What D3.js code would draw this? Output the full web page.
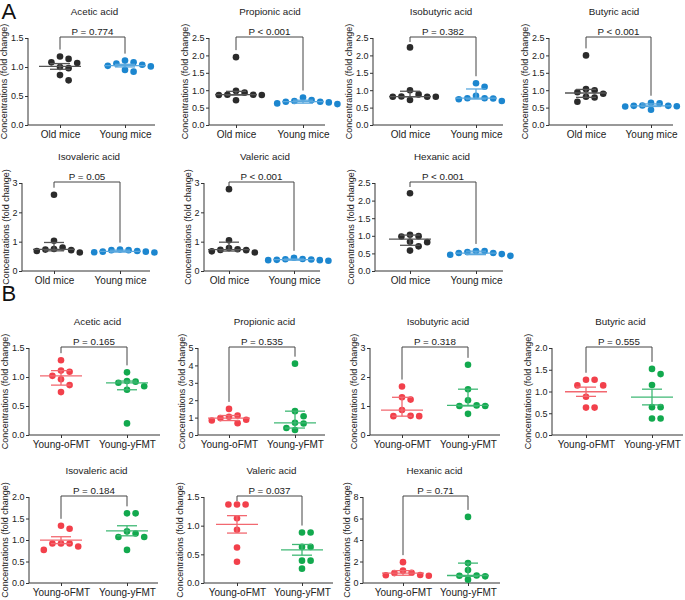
<!DOCTYPE html>
<html>
<head>
<meta charset="utf-8">
<script src="https://cdn.jsdelivr.net/npm/d3@7"></script>
<style>
  body { margin: 0; background: #fff; }
  svg { font-family: "Liberation Sans", Arial, sans-serif; }
</style>
</head>
<body>
<svg id="chart" width="685" height="600"></svg>
<script>
// ---- data ----
const acidNames = ["Acetic acid", "Propionic acid", "Isobutyric acid", "Butyric acid",
  "Isovaleric acid", "Valeric acid", "Hexanic acid"];

const groupsA = ["Old mice", "Young mice"];
const groupsB = ["Young-oFMT", "Young-yFMT"];

const pLabelsA = ["P = 0.774", "P < 0.001", "P = 0.382", "P < 0.001", "P = 0.05", "P < 0.001", "P < 0.001"];
const pLabelsB = ["P = 0.165", "P = 0.535", "P = 0.318", "P = 0.555", "P = 0.184", "P = 0.037", "P = 0.71"];

// which summary is drawn: mean ± SEM or median with IQR
const statA = ["mean", "median", "median", "median", "median", "median", "median"];
const statB = ["median", "median", "median", "mean", "mean", "mean", "median"];

const yMaxA = [1.5, 2.5, 2.5, 2.5, 3, 3, 2.5];
const yStepA = [0.5, 0.5, 0.5, 0.5, 1, 1, 0.5];
const yMaxB = [1.5, 5, 3, 2, 2, 1.5, 8];
const yStepB = [0.5, 1, 1, 0.5, 0.5, 0.5, 2];

const oldMice = [
  [1.18, 1.14, 1.08, 1.07, 1.0, 0.98, 0.86, 0.77],
  [1.95, 0.98, 0.93, 0.87, 0.87, 0.86, 0.86, 0.71],
  [2.23, 1.0, 0.88, 0.82, 0.81, 0.81, 0.81, 0.72],
  [2.0, 1.03, 1.0, 0.94, 0.90, 0.81, 0.79, 0.67],
  [2.6, 1.03, 0.8, 0.75, 0.73, 0.71, 0.68, 0.63],
  [2.79, 1.05, 0.78, 0.74, 0.72, 0.71, 0.67, 0.63],
  [2.21, 1.03, 0.99, 0.98, 0.83, 0.82, 0.70, 0.58]
];
const youngMice = [
  [1.11, 1.08, 1.06, 1.04, 1.02, 1.01, 0.95, 0.92],
  [0.79, 0.72, 0.69, 0.67, 0.67, 0.65, 0.62, 0.60],
  [1.2, 1.1, 0.84, 0.77, 0.77, 0.76, 0.74, 0.69],
  [0.64, 0.62, 0.56, 0.55, 0.55, 0.54, 0.53, 0.44],
  [0.73, 0.71, 0.71, 0.68, 0.66, 0.66, 0.64, 0.63],
  [0.45, 0.41, 0.40, 0.39, 0.38, 0.37, 0.37, 0.35],
  [0.57, 0.57, 0.54, 0.51, 0.51, 0.48, 0.46, 0.43]
];
const oFMT = [
  [1.29, 1.11, 1.09, 1.02, 0.96, 0.86, 0.74],
  [1.5, 1.12, 1.05, 0.97, 0.88, 0.83, 0.68],
  [1.67, 1.3, 1.22, 0.86, 0.66, 0.65, 0.65],
  [1.27, 1.27, 1.14, 1.14, 0.88, 0.63, 0.63],
  [1.33, 1.26, 0.92, 0.92, 0.92, 0.85, 0.77],
  [1.37, 1.37, 1.37, 1.13, 0.93, 0.62, 0.37],
  [1.94, 1.15, 0.95, 0.92, 0.75, 0.72, 0.68]
];
const yFMT = [
  [1.08, 0.93, 0.92, 0.9, 0.84, 0.78, 0.2],
  [4.1, 1.37, 1.08, 0.7, 0.66, 0.4, 0.29],
  [2.42, 1.58, 1.2, 1.02, 1.0, 1.0, 0.73],
  [1.52, 1.4, 1.15, 0.64, 0.64, 0.38, 0.38],
  [1.62, 1.62, 1.2, 1.15, 1.07, 1.07, 0.77],
  [0.88, 0.88, 0.63, 0.63, 0.39, 0.39, 0.25],
  [6.15, 1.85, 1.2, 0.7, 0.68, 0.62, 0.31]
];

// ---- layout ----
const layoutA = [
  {ax: 28, end: 155, g: [60, 125]},
  {ax: 209, end: 325, g: [236, 303]},
  {ax: 373, end: 503, g: [410, 476]},
  {ax: 549, end: 673, g: [586, 651]},
  {ax: 22, end: 150, g: [54, 120]},
  {ax: 204, end: 320, g: [229, 294]},
  {ax: 375, end: 503, g: [410, 476]}
];
const layoutB = [
  {ax: 29, end: 160, g: [61, 127]},
  {ax: 198, end: 325, g: [229, 295]},
  {ax: 370, end: 500, g: [402, 468]},
  {ax: 552, end: 683, g: [586, 652]},
  {ax: 29, end: 158, g: [61, 127]},
  {ax: 204, end: 333, g: [237, 302]},
  {ax: 363, end: 500, g: [403, 468]}
];
const rowsA = [{top: 38, bottom: 125}, {top: 183, bottom: 271}];
const rowsB = [{top: 348, bottom: 435}, {top: 497, bottom: 583}];

const inkA = {pt: ["#2b2b2b", "#1c86cf"], ln: ["#555555", "#5aa8de"]};
const inkB = {pt: ["#f2404b", "#12a94e"], ln: ["#f26870", "#3fb874"]};

const axisColor = "#333";
const R = 3.3;

const svg = d3.select("#chart");

// GraphPad-style percentile: position (n+1)p
const pctl = (vals, p) => {
  const s = vals.slice().sort(d3.ascending);
  const n = s.length;
  let pos = (n + 1) * p;
  pos = Math.max(1, Math.min(n, pos));
  const lo = Math.floor(pos), frac = pos - lo;
  return lo >= n ? s[n - 1] : s[lo - 1] + frac * (s[lo] - s[lo - 1]);
};

const summary = (vals, kind) => {
  if (kind === "mean") {
    const m = d3.mean(vals);
    const sem = d3.deviation(vals) / Math.sqrt(vals.length);
    return {mid: m, lo: m - sem, hi: m + sem};
  }
  return {mid: pctl(vals, 0.5), lo: pctl(vals, 0.25), hi: pctl(vals, 0.75)};
};

// simple dodge so points do not overlap
const dodge = (vals, y, cx, step) => {
  const order = d3.range(vals.length).sort((a, b) => vals[b] - vals[a]);
  const placed = [];
  const xs = new Array(vals.length);
  order.forEach(i => {
    const py = y(vals[i]);
    for (let k = 0; k < 20; k++) {
      const off = k === 0 ? 0 : (k % 2 ? 1 : -1) * Math.ceil(k / 2) * step;
      const hit = placed.some(p => Math.hypot(p.x - off, p.y - py) < 2 * R + 0.3);
      if (!hit) { placed.push({x: off, y: py}); xs[i] = cx + off; break; }
    }
  });
  return xs;
};

const drawPanel = (cfg) => {
  const {lay, row, title, groups, series, kind, yMax, yStep, pLabel, ink} = cfg;
  const g = svg.append("g");

  const y = d3.scaleLinear().domain([0, yMax]).range([row.bottom, row.top]);
  const x = d3.scalePoint().domain(groups).range(lay.g);

  // title
  g.append("text")
    .attr("x", (lay.ax + lay.end) / 2 + 3)
    .attr("y", row.top - 23)
    .attr("text-anchor", "middle")
    .attr("font-size", 9.8)
    .attr("fill", "#222")
    .text(title);

  // y axis
  const ticks = d3.range(0, yMax + yStep / 2, yStep);
  const fmt = yStep < 1 ? d3.format(".1f") : d3.format("d");
  const yAxis = g.append("g")
    .attr("transform", `translate(${lay.ax},0)`)
    .call(d3.axisLeft(y).tickValues(ticks).tickFormat(fmt).tickSize(3).tickPadding(1.5));
  yAxis.select(".domain").attr("stroke", axisColor).attr("d", `M0,${row.top}V${row.bottom}`);
  yAxis.selectAll(".tick line").attr("stroke", axisColor);
  yAxis.selectAll(".tick text").attr("font-size", 9).attr("fill", "#222")
    .attr("font-family", "Liberation Sans, Arial, sans-serif");

  let maxW = 0;
  yAxis.selectAll(".tick text").each(function () { maxW = Math.max(maxW, this.getComputedTextLength()); });

  g.append("text")
    .attr("transform", `translate(${lay.ax - maxW - 8},${(row.top + row.bottom) / 2}) rotate(-90)`)
    .attr("text-anchor", "middle")
    .attr("font-size", 9)
    .attr("fill", "#222")
    .text("Concentrations (fold change)");

  // x axis
  const xAxis = g.append("g")
    .attr("transform", `translate(0,${row.bottom})`)
    .call(d3.axisBottom(x).tickSize(3).tickPadding(3));
  xAxis.select(".domain").attr("stroke", axisColor).attr("d", `M${lay.ax},0H${lay.end}`);
  xAxis.selectAll(".tick line").attr("stroke", axisColor);
  xAxis.selectAll(".tick text").attr("font-size", 10).attr("fill", "#222")
    .attr("font-family", "Liberation Sans, Arial, sans-serif");

  // points
  groups.forEach((grp, gi) => {
    const vals = series[gi];
    const cx = x(grp);
    const xs = dodge(vals, y, cx, 8.6);
    g.append("g").selectAll("circle")
      .data(vals)
      .enter().append("circle")
      .attr("cx", (d, i) => xs[i])
      .attr("cy", d => y(d))
      .attr("r", R)
      .attr("fill", ink.pt[gi]);

    // summary bars
    const s = summary(vals, kind);
    const bar = g.append("g").attr("stroke", ink.ln[gi]).attr("stroke-width", 1.3).attr("fill", "none");
    bar.append("line").attr("x1", cx).attr("x2", cx).attr("y1", y(s.lo)).attr("y2", y(s.hi));
    bar.append("line").attr("x1", cx - 21).attr("x2", cx + 21).attr("y1", y(s.mid)).attr("y2", y(s.mid));
    [s.lo, s.hi].forEach(v => {
      bar.append("line").attr("x1", cx - 10).attr("x2", cx + 10).attr("y1", y(v)).attr("y2", y(v));
    });
  });

  // significance bracket
  const by = row.top - 1;
  const legs = groups.map((grp, gi) => Math.max(by + 5, y(d3.max(series[gi])) - 7));
  const [x1, x2] = lay.g;
  g.append("path")
    .attr("d", `M${x1},${legs[0]}V${by}H${x2}V${legs[1]}`)
    .attr("fill", "none")
    .attr("stroke", "#444")
    .attr("stroke-width", 1);
  g.append("text")
    .attr("x", (x1 + x2) / 2)
    .attr("y", by - 2.5)
    .attr("text-anchor", "middle")
    .attr("font-size", 9.8)
    .attr("fill", "#222")
    .text(pLabel);
};

acidNames.forEach((name, i) => {
  drawPanel({
    lay: layoutA[i], row: rowsA[i < 4 ? 0 : 1], title: name, groups: groupsA,
    series: [oldMice[i], youngMice[i]], kind: statA[i],
    yMax: yMaxA[i], yStep: yStepA[i], pLabel: pLabelsA[i], ink: inkA
  });
  drawPanel({
    lay: layoutB[i], row: rowsB[i < 4 ? 0 : 1], title: name, groups: groupsB,
    series: [oFMT[i], yFMT[i]], kind: statB[i],
    yMax: yMaxB[i], yStep: yStepB[i], pLabel: pLabelsB[i], ink: inkB
  });
});

// panel letters
svg.append("text").attr("x", 1.5).attr("y", 19).attr("font-size", 22).attr("fill", "#111").text("A");
svg.append("text").attr("x", 1.5).attr("y", 301).attr("font-size", 22).attr("fill", "#111").text("B");
</script>
</body>
</html>
